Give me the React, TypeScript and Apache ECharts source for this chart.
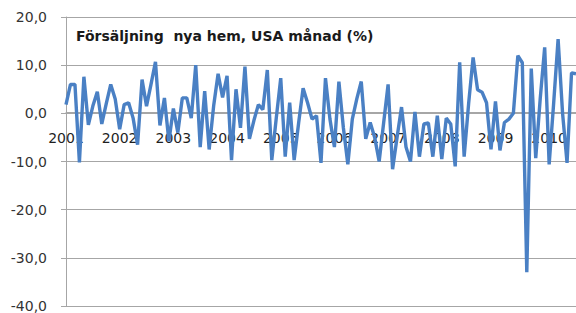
import React, { useEffect, useRef } from "react";
import * as echarts from "echarts";

// Tick labels (one per January)
const years = ["2001", "2002", "2003", "2004", "2005", "2006", "2007", "2008", "2009", "2010"];

// Monthly % change, new home sales USA
const v2001 = [1.8, 6, 6, -10.2, 7.6, -2.4, 1.5, 4.5, -2.2, 2, 6, 3];
const v2002 = [-3.3, 1.8, 2.2, -1, -6.5, 7, 1.5, 6, 10.7, -2.5, 3.2, -5.8];
const v2003 = [1, -4, 3.2, 3.2, -1, 10, -7, 4.6, -7.5, 1.5, 8.2, 3.3];
const v2004 = [7.8, -9.7, 5, -3, 9.7, -5.3, -1.5, 1.8, 0.8, 9, -9.7, -1];
const v2005 = [7.3, -9, 2.2, -9.7, -2, 5.2, 2.2, -1.2, -0.5, -10.3, 7.3, -1.2];
const v2006 = [-7, 6.6, -3, -10.6, -1.2, 3, 6.6, -5.3, -1.9, -5, -10, -2];
const v2007 = [6, -11.6, -5, 1.3, -7, -10, 0.3, -9, -2.2, -2, -9, -0.5];
const v2008 = [-9.5, -1, -2.2, -11, 10.6, -9, 2, 11.6, 4.9, 4.4, 2.2, -7.5];
const v2009 = [2.5, -7.7, -1.9, -1.2, 0, 12, 10.5, -33, 9.3, -9.3, 3, 13.7];
const v2010 = [-10.6, 2, 15.4, 0, -10.3, 8.4, 8.2];

const yearValues = [v2001, v2002, v2003, v2004, v2005, v2006, v2007, v2008, v2009, v2010];

const categories: string[] = [];
const values: number[] = [];
yearValues.forEach((arr, yi) => {
  arr.forEach((v, mi) => {
    categories.push(years[yi] + "-" + String(mi + 1).padStart(2, "0"));
    values.push(v);
  });
});

const titleText = "Försäljning  nya hem, USA månad (%)";

const Y_MIN = -40;
const Y_MAX = 20;
const GRID_TOP = 17;
const GRID_BOTTOM = 6;
const HEIGHT = 313;

export default function App() {
  const ref = useRef<HTMLDivElement>(null);
  useEffect(() => {
    document.body.style.margin = "0";
    const chart = echarts.init(ref.current!, undefined, { renderer: "svg" });
    const plotH = HEIGHT - GRID_TOP - GRID_BOTTOM;
    // distance from the bottom of the plot up to the zero line
    const zeroOffset = (plotH * (0 - Y_MIN)) / (Y_MAX - Y_MIN);
    chart.setOption({
      animation: false,
      backgroundColor: "#ffffff",
      title: {
        text: titleText,
        left: 71,
        top: 24,
        textStyle: {
          fontFamily: "DejaVu Sans",
          fontSize: 14,
          fontWeight: "bold",
          color: "#1a1a1a",
        },
      },
      grid: { left: 66, right: 0, top: GRID_TOP, bottom: GRID_BOTTOM, containLabel: false },
      xAxis: {
        type: "category",
        data: categories,
        boundaryGap: false,
        position: "bottom",
        offset: -zeroOffset,
        axisLine: { onZero: false, lineStyle: { color: "#a6a6a6", width: 1 } },
        axisTick: { show: false },
        axisLabel: {
          interval: (idx: number) => idx % 12 === 0,
          formatter: (val: string) => val.slice(0, 4),
          margin: 18,
          fontFamily: "DejaVu Sans",
          fontSize: 14,
          color: "#1f1f1f",
        },
        splitLine: { show: false },
      },
      yAxis: {
        type: "value",
        min: Y_MIN,
        max: Y_MAX,
        interval: 10,
        axisLine: { show: true, lineStyle: { color: "#a6a6a6", width: 1 } },
        axisTick: { show: true, length: 5, lineStyle: { color: "#a6a6a6" } },
        axisLabel: {
          formatter: (v: number) => v.toFixed(1).replace(".", ","),
          margin: 19,
          fontFamily: "DejaVu Sans",
          fontSize: 14,
          color: "#333333",
        },
        splitLine: { show: true, lineStyle: { color: "#a6a6a6", width: 1 } },
      },
      series: [
        {
          type: "line",
          data: values,
          symbol: "none",
          lineStyle: { color: "#4a80c4", width: 3.4 },
          itemStyle: { color: "#4a80c4" },
        },
      ],
    });
    return () => chart.dispose();
  }, []);
  return <div ref={ref} style={{ width: 576, height: 313 }} />;
}
